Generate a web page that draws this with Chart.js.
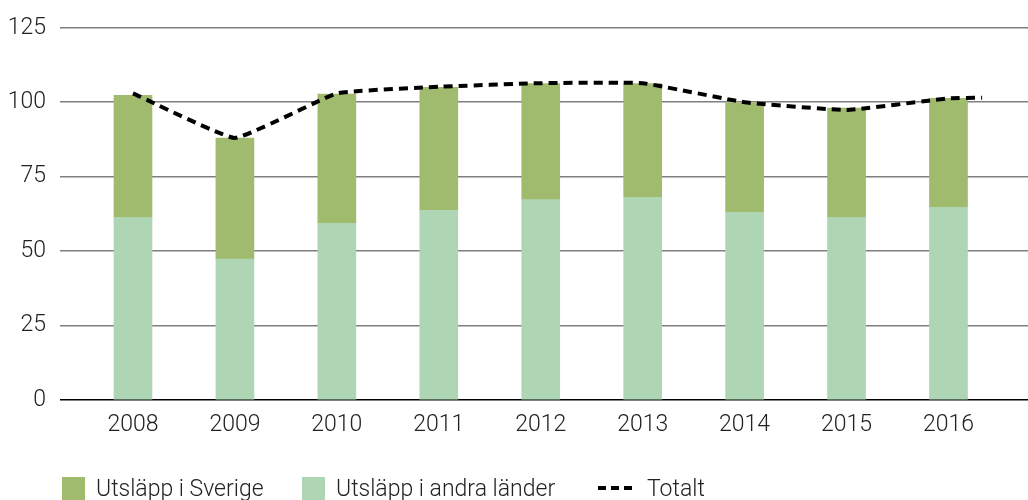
<!DOCTYPE html>
<html>
<head>
<meta charset="utf-8">
<script src="https://cdn.jsdelivr.net/npm/chart.js@4"></script>
<style>
    body { margin: 0; background: #fff; }
    #wrap { position: relative; width: 1028px; height: 500px; overflow: hidden; }
    #legend { position: absolute; left: 0; top: 474px; width: 1028px; height: 30px; font-family: Roboto, 'Liberation Sans', sans-serif; font-weight: 300; font-size: 23px; color: #222; }
    .legend-item { position: absolute; top: 0; display: flex; align-items: center; height: 28px; }
    .legend-box { width: 23px; height: 23px; margin-right: 11px; }
    .legend-dash { width: 36px; height: 4px; margin-right: 13px; background: repeating-linear-gradient(90deg, #000 0 8px, transparent 8px 13px); }
</style>
</head>
<body>
<div id="wrap">
    <canvas id="chart" width="1028" height="500"></canvas>
    <div id="legend"></div>
</div>
<script>
const years = [2008, 2009, 2010, 2011, 2012, 2013, 2014, 2015, 2016];
const sverige = [41, 40.7, 43.4, 41.3, 39, 38.3, 36.8, 36.7, 36.6];
const andraLander = [61.3, 47.3, 59.3, 63.7, 67.3, 68, 63, 61.3, 64.7];
const totalt = [103, 88, 103, 105.2, 106.4, 106.4, 100, 97.4, 101.3];
// the dashed line runs on a little past the last bar
const totaltEnd = { x: 2016.33, y: 101.5 };
const yTicks = [0, 25, 50, 75, 100, 125];
const legendX = [62, 302, 598];

const fontFamily = "Roboto, 'Liberation Sans', sans-serif";

document.addEventListener('DOMContentLoaded', () => {
    const ctx = document.getElementById('chart').getContext('2d');
    const linePoints = years.map((y, i) => ({ x: y, y: totalt[i] }));
    linePoints.push(totaltEnd);

    const chart = new Chart(ctx, {
        data: {
            datasets: [
                {
                    type: 'bar',
                    label: 'Utsläpp i andra länder',
                    data: years.map((y, i) => ({ x: y, y: andraLander[i] })),
                    backgroundColor: '#aed6b5',
                    stack: 'bars',
                    barThickness: 38,
                    order: 2
                },
                {
                    type: 'bar',
                    label: 'Utsläpp i Sverige',
                    data: years.map((y, i) => ({ x: y, y: sverige[i] })),
                    backgroundColor: '#a0ba6e',
                    stack: 'bars',
                    barThickness: 38,
                    order: 2
                },
                {
                    type: 'line',
                    label: 'Totalt',
                    data: linePoints,
                    borderColor: '#000',
                    borderWidth: 4,
                    borderDash: [9, 6],
                    tension: 0.1,
                    pointRadius: 0,
                    fill: false,
                    stack: 'line',
                    order: 1
                }
            ]
        },
        options: {
            responsive: false,
            animation: false,
            layout: { padding: { top: 26, right: 0, left: 0, bottom: 0 } },
            scales: {
                x: {
                    type: 'linear',
                    min: 2007.284,
                    max: 2016.78,
                    offset: false,
                    stacked: true,
                    afterBuildTicks: (axis) => { axis.ticks = years.map(v => ({ value: v })); },
                    afterFit: (axis) => { axis.height = 100; },
                    grid: { display: false, drawTicks: false },
                    border: { display: false },
                    ticks: {
                        padding: 11,
                        color: '#222',
                        font: { family: fontFamily, size: 23, weight: 300 },
                        callback: (v) => String(v)
                    }
                },
                y: {
                    min: 0,
                    max: 125,
                    stacked: true,
                    afterBuildTicks: (axis) => { axis.ticks = yTicks.map(v => ({ value: v })); },
                    afterFit: (axis) => { axis.width = 60; },
                    grid: {
                        drawTicks: false,
                        color: (c) => c.tick && c.tick.value === 0 ? '#000' : '#7f7f7f',
                        lineWidth: 1.5
                    },
                    border: { display: false },
                    ticks: {
                        padding: 14,
                        color: '#222',
                        font: { family: fontFamily, size: 23, weight: 300 }
                    }
                }
            },
            plugins: {
                legend: { display: false },
                tooltip: { enabled: false }
            }
        }
    });

    // custom legend under the chart
    const legend = document.getElementById('legend');
    const legendOrder = [1, 0, 2];
    legendOrder.forEach((dsIndex, i) => {
        const dataset = chart.data.datasets[dsIndex];
        const item = document.createElement('div');
        item.classList.add('legend-item');
        item.style.left = legendX[i] + 'px';
        const mark = document.createElement('div');
        if (dataset.type === 'line') {
            mark.classList.add('legend-dash');
        } else {
            mark.classList.add('legend-box');
            mark.style.background = dataset.backgroundColor;
        }
        item.appendChild(mark);
        const label = document.createElement('span');
        label.textContent = dataset.label;
        item.appendChild(label);
        legend.appendChild(item);
    });
});
</script>
</body>
</html>
